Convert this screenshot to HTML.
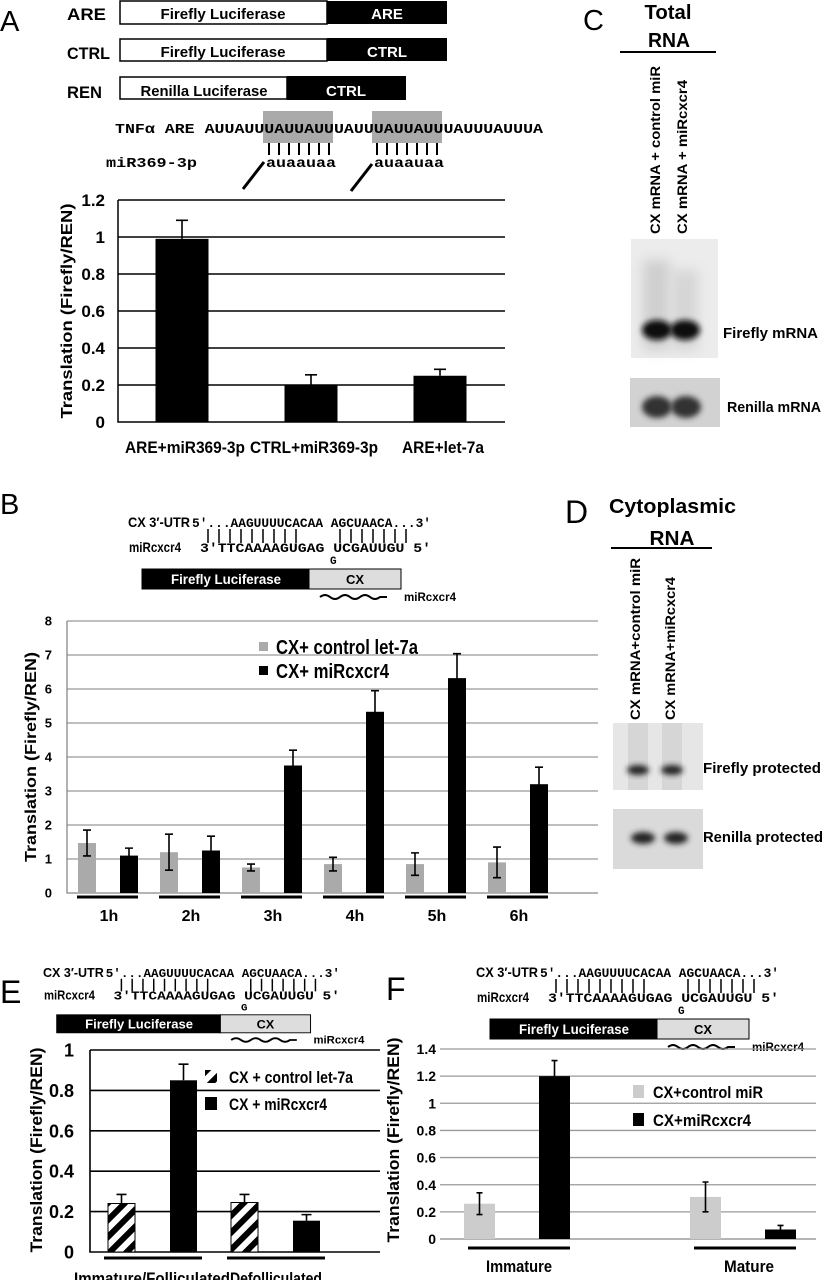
<!DOCTYPE html>
<html><head><meta charset="utf-8"><style>
html,body{margin:0;padding:0;background:#fff}
svg{display:block}
text{font-family:"Liberation Sans",sans-serif}
.b{font-weight:bold}
.mono{font-family:"Liberation Mono",monospace;font-weight:bold}
</style></head><body>
<svg id="fig" width="826" height="1280" viewBox="0 0 826 1280" xmlns="http://www.w3.org/2000/svg">
<defs>
<pattern id="hatch" patternUnits="userSpaceOnUse" width="12" height="12" patternTransform="rotate(45)">
<rect width="12" height="12" fill="#fff"/><rect width="6" height="12" fill="#000"/></pattern>
<filter id="blur" x="-50%" y="-50%" width="200%" height="200%"><feGaussianBlur stdDeviation="3"/></filter>
<filter id="blur2" x="-50%" y="-50%" width="200%" height="200%"><feGaussianBlur stdDeviation="6"/></filter>
<g id="seqblock">
<text class="b" x="0" y="0" font-size="14" textLength="62" lengthAdjust="spacingAndGlyphs">CX 3′-UTR</text>
<text class="mono" x="64" y="0" font-size="13" textLength="239" lengthAdjust="spacingAndGlyphs">5′...AAGUUUUCACAA AGCUAACA...3′</text>
<text class="b" x="1" y="25" font-size="14" textLength="52" lengthAdjust="spacingAndGlyphs">miRcxcr4</text>
<text class="mono" x="72" y="25" font-size="13" textLength="231" lengthAdjust="spacingAndGlyphs">3′TTCAAAAGUGAG UCGAUUGU 5′</text>
<path d="M80 2V16M91 2V16M102 2V16M113 2V16M124 2V16M135 2V16M146 2V16M157 2V16M168 2V16M212 2V16M223 2V16M234 2V16M245 2V16M256 2V16M267 2V16M278 2V16" stroke="#000" stroke-width="1.5"/>
<text class="mono" x="202" y="37" font-size="11">G</text>
<rect x="14" y="42" width="167" height="20" fill="#000" stroke="#000"/>
<rect x="181" y="42" width="92" height="20" fill="#ddd" stroke="#000"/>
<text class="b" x="98" y="57" font-size="14" fill="#fff" text-anchor="middle" textLength="110" lengthAdjust="spacingAndGlyphs">Firefly Luciferase</text>
<text class="b" x="227" y="57" font-size="13" text-anchor="middle">CX</text>
<path d="M192 70Q197 66 202 70Q207 74 212 70Q217 66 222 70Q227 74 232 70Q237 66 242 70Q247 74 252 70L259 70" stroke="#000" stroke-width="2" fill="none"/>
<text class="b" x="276" y="74" font-size="12" textLength="52" lengthAdjust="spacingAndGlyphs">miRcxcr4</text>
</g>
</defs>

<!-- PANEL A header -->
<g>
<text x="0" y="31" font-size="29">A</text>
<text class="b" x="67" y="20" font-size="17" textLength="39" lengthAdjust="spacingAndGlyphs">ARE</text>
<rect x="120" y="1" width="207" height="23" fill="#fff" stroke="#000" stroke-width="1.5"/>
<rect x="327" y="1" width="120" height="23" fill="#000"/>
<text class="b" x="223" y="19" font-size="15" text-anchor="middle" textLength="125" lengthAdjust="spacingAndGlyphs">Firefly Luciferase</text>
<text class="b" x="387" y="19" font-size="15" fill="#fff" text-anchor="middle">ARE</text>
<text class="b" x="67" y="59" font-size="17" textLength="43" lengthAdjust="spacingAndGlyphs">CTRL</text>
<rect x="120" y="39" width="207" height="22" fill="#fff" stroke="#000" stroke-width="1.5"/>
<rect x="327" y="38" width="120" height="23" fill="#000"/>
<text class="b" x="223" y="57" font-size="15" text-anchor="middle" textLength="125" lengthAdjust="spacingAndGlyphs">Firefly Luciferase</text>
<text class="b" x="387" y="57" font-size="15" fill="#fff" text-anchor="middle">CTRL</text>
<text class="b" x="67" y="98" font-size="17" textLength="35" lengthAdjust="spacingAndGlyphs">REN</text>
<rect x="120" y="77" width="167" height="22" fill="#fff" stroke="#000" stroke-width="1.5"/>
<rect x="287" y="76" width="119" height="24" fill="#000"/>
<text class="b" x="204" y="96" font-size="15" text-anchor="middle" textLength="127" lengthAdjust="spacingAndGlyphs">Renilla Luciferase</text>
<text class="b" x="346" y="96" font-size="15" fill="#fff" text-anchor="middle">CTRL</text>
<rect x="263" y="111" width="70" height="32" fill="#aaa"/>
<rect x="372" y="111" width="70" height="32" fill="#aaa"/>
<text class="mono" x="115" y="133" font-size="14" textLength="428" lengthAdjust="spacingAndGlyphs">TNFα ARE AUUAUUUAUUAUUUAUUUAUUAUUUAUUUAUUUA</text>
<path d="M269 143V155M279 143V155M289 143V155M299 143V155M309 143V155M319 143V155M329 143V155M377 143V155M387 143V155M397 143V155M407 143V155M417 143V155M427 143V155M437 143V155" stroke="#000" stroke-width="2"/>
<text class="mono" x="106" y="167" font-size="14" textLength="91" lengthAdjust="spacingAndGlyphs">miR369-3p</text>
<text class="mono" x="266" y="167" font-size="14" textLength="70" lengthAdjust="spacingAndGlyphs">auaauaa</text>
<text class="mono" x="374" y="167" font-size="14" textLength="70" lengthAdjust="spacingAndGlyphs">auaauaa</text>
<path d="M243 189L264 162M351 191L372 164" stroke="#000" stroke-width="3"/>
</g>
<g id="chartA"></g>

<!-- PANEL B -->
<text x="0" y="514" font-size="29">B</text>
<use href="#seqblock" transform="translate(128,527)"/>
<g id="chartB"></g>

<!-- PANEL C -->
<g>
<text x="583" y="30" font-size="29">C</text>
<text class="b" x="668" y="19" font-size="20" text-anchor="middle" textLength="47" lengthAdjust="spacingAndGlyphs">Total</text>
<text class="b" x="669" y="47" font-size="20" text-anchor="middle" textLength="42" lengthAdjust="spacingAndGlyphs">RNA</text>
<line x1="620" y1="52" x2="716" y2="52" stroke="#000" stroke-width="2"/>
<text class="b" font-size="14" transform="translate(660,234) rotate(-90)" textLength="168" lengthAdjust="spacingAndGlyphs">CX mRNA + control miR</text>
<text class="b" font-size="14" transform="translate(687,234) rotate(-90)" textLength="154" lengthAdjust="spacingAndGlyphs">CX mRNA + miRcxcr4</text>
<rect x="631" y="239" width="87" height="119" fill="#ececec"/>
<rect x="643" y="260" width="27" height="90" fill="#cfcfcf" filter="url(#blur2)"/>
<rect x="672" y="270" width="26" height="80" fill="#d5d5d5" filter="url(#blur2)"/>
<ellipse cx="657" cy="330" rx="15" ry="10" fill="#111" filter="url(#blur)"/>
<ellipse cx="685" cy="330" rx="15" ry="10" fill="#111" filter="url(#blur)"/>
<rect x="630" y="378" width="90" height="49" fill="#d2d2d2"/>
<ellipse cx="657" cy="407" rx="15" ry="11" fill="#333" filter="url(#blur)"/>
<ellipse cx="686" cy="407" rx="15" ry="11" fill="#333" filter="url(#blur)"/>
<text class="b" x="723" y="338" font-size="15" textLength="95" lengthAdjust="spacingAndGlyphs">Firefly mRNA</text>
<text class="b" x="727" y="412" font-size="15" textLength="94" lengthAdjust="spacingAndGlyphs">Renilla mRNA</text>
</g>

<!-- PANEL D -->
<g>
<text x="565" y="523" font-size="32">D</text>
<text class="b" x="609" y="513" font-size="20" textLength="127" lengthAdjust="spacingAndGlyphs">Cytoplasmic</text>
<text class="b" x="672" y="545" font-size="20" text-anchor="middle" textLength="45" lengthAdjust="spacingAndGlyphs">RNA</text>
<line x1="611" y1="548" x2="712" y2="548" stroke="#000" stroke-width="2"/>
<text class="b" font-size="14" transform="translate(640,720) rotate(-90)" textLength="162" lengthAdjust="spacingAndGlyphs">CX mRNA+control miR</text>
<text class="b" font-size="14" transform="translate(675,720) rotate(-90)" textLength="143" lengthAdjust="spacingAndGlyphs">CX mRNA+miRcxcr4</text>
<rect x="613" y="723" width="90" height="67" fill="#e6e6e6"/>
<rect x="628" y="723" width="20" height="67" fill="#d6d6d6"/>
<rect x="662" y="723" width="20" height="67" fill="#d6d6d6"/>
<ellipse cx="638" cy="770" rx="11" ry="5" fill="#222" filter="url(#blur)"/>
<ellipse cx="672" cy="770" rx="11" ry="5" fill="#222" filter="url(#blur)"/>
<rect x="613" y="809" width="90" height="60" fill="#dadada"/>
<ellipse cx="643" cy="838" rx="12" ry="6" fill="#222" filter="url(#blur)"/>
<ellipse cx="676" cy="838" rx="12" ry="6" fill="#222" filter="url(#blur)"/>
<text class="b" x="703" y="773" font-size="15" textLength="118" lengthAdjust="spacingAndGlyphs">Firefly protected</text>
<text class="b" x="703" y="842" font-size="15" textLength="120" lengthAdjust="spacingAndGlyphs">Renilla protected</text>
</g>

<!-- PANEL E -->
<text x="0" y="1003" font-size="32">E</text>
<use href="#seqblock" transform="translate(43,977) scale(0.98,0.9)"/>
<g id="chartE"></g>

<!-- PANEL F -->
<text x="386" y="1000" font-size="32">F</text>
<use href="#seqblock" transform="translate(476,977) scale(1.0,1.0)"/>
<g id="chartF"></g>
</svg>

<script>
// Panel A data
const aCategories = ["ARE+miR369-3p", "CTRL+miR369-3p", "ARE+let-7a"];
const aValues = [0.99, 0.20, 0.25];
const aErrors = [0.10, 0.055, 0.035];
const aTicks = ["0", "0.2", "0.4", "0.6", "0.8", "1", "1.2"];
// Panel B data
const bCategories = ["1h", "2h", "3h", "4h", "5h", "6h"];
const bControl = [1.47, 1.2, 0.75, 0.85, 0.85, 0.9];
const bControlErr = [0.38, 0.53, 0.1, 0.2, 0.33, 0.45];
const bMir = [1.1, 1.25, 3.75, 5.33, 6.32, 3.2];
const bMirErr = [0.22, 0.42, 0.45, 0.62, 0.72, 0.5];
const bTicks = ["0", "1", "2", "3", "4", "5", "6", "7", "8"];
const bLegend = ["CX+ control let-7a", "CX+ miRcxcr4"];
// Panel E data
const eCategories = ["Immature/Folliculated", "Defolliculated"];
const eControl = [0.24, 0.245];
const eControlErr = [0.045, 0.04];
const eMir = [0.85, 0.155];
const eMirErr = [0.08, 0.03];
const eTicks = ["0", "0.2", "0.4", "0.6", "0.8", "1"];
const eLegend = ["CX + control let-7a", "CX + miRcxcr4"];
// Panel F data
const fCategories = ["Immature", "Mature"];
const fControl = [0.26, 0.31];
const fControlErr = [0.08, 0.11];
const fMir = [1.2, 0.07];
const fMirErr = [0.115, 0.03];
const fTicks = ["0", "0.2", "0.4", "0.6", "0.8", "1", "1.2", "1.4"];
const fLegend = ["CX+control miR", "CX+miRcxcr4"];

const NS = "http://www.w3.org/2000/svg";
function mk(parent, tag, attrs, txt) {
  const el = document.createElementNS(NS, tag);
  for (const k in attrs) el.setAttribute(k, attrs[k]);
  if (txt !== undefined) el.textContent = txt;
  parent.appendChild(el);
  return el;
}
function errBar(g, x, yTop, yVal, yBot, cap, both, name) {
  const p = mk(g, "path", {d: "M" + x + " " + (both ? yBot : yVal) + "V" + yTop + "M" + (x - cap) + " " + yTop + "H" + (x + cap) + (both ? "M" + (x - cap) + " " + yBot + "H" + (x + cap) : ""), stroke: "#000", "stroke-width": 1.6, fill: "none"});
  
  
}
function axisY(g, ticks, x0, x1, yScale, color, labelX, fs, lw, title, tx, ty, tlen, tfs) {
  ticks.forEach(function (t) {
    const v = parseFloat(t), y = yScale(v);
    if (v > 0) {
      const l = mk(g, "line", {x1: x0, x2: x1, y1: y, y2: y, stroke: color, "stroke-width": lw});
      
      
    }
    const tl = mk(g, "text", {x: labelX, y: y + fs * 0.36, "font-size": fs, "text-anchor": "end", class: "b"}, t);
    
    
  });
  const yt = mk(g, "text", {transform: "translate(" + tx + "," + ty + ") rotate(-90)", "text-anchor": "middle", "font-size": tfs, class: "b", textLength: tlen, lengthAdjust: "spacingAndGlyphs"}, title);
  
  
}

// ---- Chart A
(function () {
  const g = document.getElementById("chartA");
  const y = v => 422 - v / 1.2 * 222;
  axisY(g, aTicks, 118, 505, y, "#000", 105, 17, 1.5, "Translation (Firefly/REN)", 72, 311, 215, 16);
  const ax = mk(g, "path", {d: "M118 200V422H505", stroke: "#000", "stroke-width": 1.5, fill: "none"});
  
  
  const centers = [182, 311, 440];
  aCategories.forEach(function (c, i) {
    const r = mk(g, "rect", {x: centers[i] - 26.5, y: y(aValues[i]), width: 53, height: 422 - y(aValues[i]), fill: "#000"});
    
    
    errBar(g, centers[i], y(aValues[i] + aErrors[i]), y(aValues[i]), 0, 6, false, 'error-bar');
    const t = mk(g, "text", {x: centers[i] + 3, y: 453, "font-size": 17, "text-anchor": "middle", class: "b", textLength: [120, 128, 82][i], lengthAdjust: "spacingAndGlyphs"}, c);
    
    
  });
})();

// ---- Chart B
(function () {
  const g = document.getElementById("chartB");
  const y = v => 893 - v * 34;
  axisY(g, bTicks, 67, 598, y, "#999", 52, 13, 1.3, "Translation  (Firefly/REN)", 36, 757, 210, 16);
  const ax = mk(g, "path", {d: "M67 621V893H598", stroke: "#888", "stroke-width": 1.3, fill: "none"});
  
  
  bCategories.forEach(function (c, i) {
    const gx = 78 + i * 82;
    const r1 = mk(g, "rect", {x: gx, y: y(bControl[i]), width: 18, height: 893 - y(bControl[i]), fill: "#aaa"});
    
    
    errBar(g, gx + 9, y(bControl[i] + bControlErr[i]), y(bControl[i]), y(bControl[i] - bControlErr[i]), 4, true, 'error-bar-control');
    const r2 = mk(g, "rect", {x: gx + 42, y: y(bMir[i]), width: 18, height: 893 - y(bMir[i]), fill: "#000"});
    
    
    errBar(g, gx + 51, y(bMir[i] + bMirErr[i]), y(bMir[i]), y(bMir[i] - bMirErr[i]), 4, true, 'error-bar-mircxcr4');
    const ul = mk(g, "line", {x1: gx - 1, x2: gx + 60, y1: 897, y2: 897, stroke: "#000", "stroke-width": 3});
    
    
    const t = mk(g, "text", {x: gx + 31, y: 921, "font-size": 16, "text-anchor": "middle", class: "b"}, c);
    
    
  });
  [["#aaa", 642], ["#000", 666]].forEach(function (d, i) {
    const s = mk(g, "rect", {x: 259, y: d[1], width: 9, height: 9, fill: d[0]});
    
    
    const t = mk(g, "text", {x: 276, y: d[1] + 12, "font-size": 20, class: "b", textLength: [142, 113][i], lengthAdjust: "spacingAndGlyphs"}, bLegend[i]);
    
    
  });
})();

// ---- Chart E
(function () {
  const g = document.getElementById("chartE");
  const y = v => 1252 - v * 202;
  axisY(g, eTicks, 90, 380, y, "#000", 74, 18, 1.6, "Translation (Firefly/REN)", 42, 1150, 205, 17);
  const ax = mk(g, "path", {d: "M90 1050V1252H380", stroke: "#000", "stroke-width": 1.6, fill: "none"});
  
  
  const starts = [108, 231];
  eCategories.forEach(function (c, i) {
    const gx = starts[i];
    const r1 = mk(g, "rect", {x: gx, y: y(eControl[i]), width: 27, height: 1252 - y(eControl[i]), fill: "url(#hatch)", stroke: "#000", "stroke-width": 1});
    
    
    errBar(g, gx + 13.5, y(eControl[i] + eControlErr[i]), y(eControl[i]), 0, 5, false, 'error-bar-control');
    const r2 = mk(g, "rect", {x: gx + 62, y: y(eMir[i]), width: 27, height: 1252 - y(eMir[i]), fill: "#000"});
    
    
    errBar(g, gx + 75.5, y(eMir[i] + eMirErr[i]), y(eMir[i]), 0, 5, false, 'error-bar-mircxcr4');
    const ul = mk(g, "line", {x1: gx - 4, x2: gx + 94, y1: 1258, y2: 1258, stroke: "#000", "stroke-width": 3});
    
    
    const t = mk(g, "text", {x: [152, 276][i], y: 1284, "font-size": 17, "text-anchor": "middle", class: "b", textLength: [156, 92][i], lengthAdjust: "spacingAndGlyphs"}, c);
    
    
  });
  [["url(#hatch)", 1070], ["#000", 1097]].forEach(function (d, i) {
    const s = mk(g, "rect", {x: 205, y: d[1], width: 12, height: 13, fill: d[0]});
    
    
    const t = mk(g, "text", {x: 229, y: d[1] + 13, "font-size": 17, class: "b", textLength: [124, 98][i], lengthAdjust: "spacingAndGlyphs"}, eLegend[i]);
    
    
  });
})();

// ---- Chart F
(function () {
  const g = document.getElementById("chartF");
  const y = v => 1239 - v / 1.4 * 190;
  axisY(g, fTicks, 440, 816, y, "#999", 436, 14, 1.3, "Translation (Firefly/REN)", 399, 1140, 205, 17);
  const ax = mk(g, "path", {d: "M440 1239H816", stroke: "#888", "stroke-width": 1.3, fill: "none"});
  
  
  const starts = [464, 690];
  fCategories.forEach(function (c, i) {
    const gx = starts[i];
    const r1 = mk(g, "rect", {x: gx, y: y(fControl[i]), width: 31, height: 1239 - y(fControl[i]), fill: "#ccc"});
    
    
    errBar(g, gx + 15.5, y(fControl[i] + fControlErr[i]), y(fControl[i]), y(fControl[i] - fControlErr[i]), 3, true, 'error-bar-control');
    const r2 = mk(g, "rect", {x: gx + 75, y: y(fMir[i]), width: 31, height: 1239 - y(fMir[i]), fill: "#000"});
    
    
    errBar(g, gx + 90.5, y(fMir[i] + fMirErr[i]), y(fMir[i]), y(fMir[i] - fMirErr[i]), 3, true, 'error-bar-mircxcr4');
    const ul = mk(g, "line", {x1: gx + 4, x2: gx + 106, y1: 1248, y2: 1248, stroke: "#000", "stroke-width": 3});
    
    
    const t = mk(g, "text", {x: [519, 749][i], y: 1272, "font-size": 17, "text-anchor": "middle", class: "b", textLength: [66, 50][i], lengthAdjust: "spacingAndGlyphs"}, c);
    
    
  });
  [["#ccc", 1085], ["#000", 1113]].forEach(function (d, i) {
    const s = mk(g, "rect", {x: 633, y: d[1], width: 11, height: 13, fill: d[0]});
    
    
    const t = mk(g, "text", {x: 653, y: d[1] + 13, "font-size": 17, class: "b", textLength: [110, 98][i], lengthAdjust: "spacingAndGlyphs"}, fLegend[i]);
    
    
  });
})();
</script>
</body></html>
